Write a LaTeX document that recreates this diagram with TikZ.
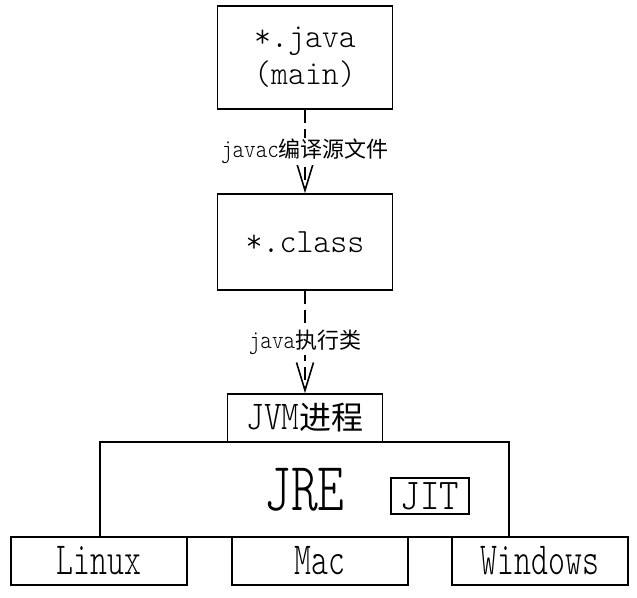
\documentclass[tikz,border=0pt]{standalone}
\usepackage{fontspec}
\setmainfont{Latin Modern Mono Light}
\newfontfamily\cjk{Noto Sans CJK SC}
\usetikzlibrary{arrows.meta}
\newcommand{\sx}[2]{\scalebox{#1}[1]{#2}}
\newcommand{\sy}[1]{\scalebox{1}[1.18]{#1}}
\begin{document}
\begin{tikzpicture}[x=1pt,y=-1pt,
  box/.style={draw, line width=1.6pt, inner sep=0pt, align=center},
  conn/.style={line width=1.8pt, dash pattern=on 13pt off 6pt,
    -{Straight Barb[length=28pt,width=17pt,line width=1.6pt]}},
  lbl/.style={fill=white, inner sep=1pt, font=\fontsize{22}{22}\selectfont},
  code/.style={font=\fontsize{34}{37}\selectfont},
  osfont/.style={font=\fontsize{46}{46}\selectfont}]
\useasboundingbox (0,0) rectangle (637,597);
\node[box, code, minimum width=175pt, minimum height=103pt] (java) at (305,57.5)
  {\sx{0.95}{*.java}\\\sx{0.95}{(main)}};
\node[box, code, minimum width=175pt, minimum height=96pt] (class) at (305,242)
  {\sx{0.95}{*.class}};
\node[box, minimum width=409pt, minimum height=95pt, font=\fontsize{69}{69}\selectfont] (jre) at (304.5,489.5)
  {\sx{0.74}{JRE}};
\node[box, minimum width=155pt, minimum height=48pt, fill=white] (jvm) at (305,418)
  {\fontsize{41}{41}\selectfont\sx{0.82}{JVM}{\cjk\fontsize{32}{32}\selectfont 进程}};
\node[box, minimum width=78pt, minimum height=36pt, font=\fontsize{44}{44}\selectfont] (jit) at (430,496)
  {\sx{0.84}{JIT}};
\node[box, minimum width=176pt, minimum height=48pt, fill=white, osfont] (linux) at (99,561)
  {\sx{0.7}{Linux}};
\node[box, minimum width=176pt, minimum height=48pt, fill=white, osfont] (mac) at (320,561)
  {\sx{0.7}{Mac}};
\node[box, minimum width=176pt, minimum height=48pt, fill=white, osfont] (win) at (540,561)
  {\sx{0.7}{Windows}};
\draw[conn] (java) -- node[lbl] {\sy{javac}{\cjk 编译源文件}} (class);
\draw[conn] (class) -- node[lbl] {\sy{java}{\cjk 执行类}} (jvm);
\end{tikzpicture}
\end{document}
